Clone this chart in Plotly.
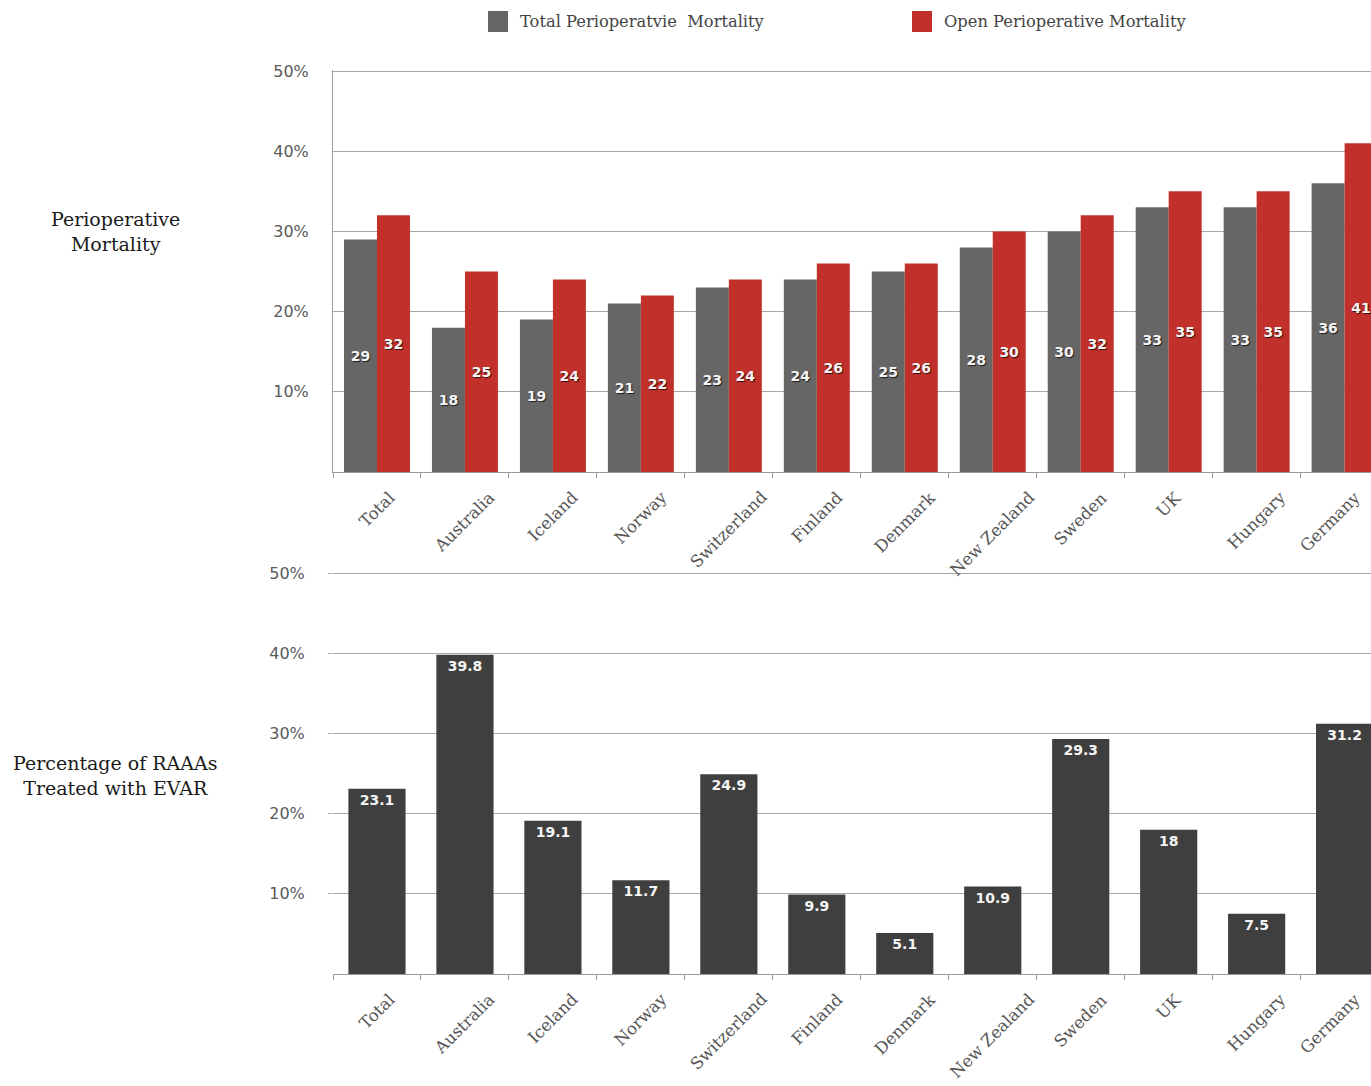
import plotly.graph_objects as go

# Countries shown on both panels
countries = ["Total", "Australia", "Iceland", "Norway", "Switzerland", "Finland",
             "Denmark", "New Zealand", "Sweden", "UK", "Hungary", "Germany"]

# Perioperative mortality (%)
total_mortality = [29, 18, 19, 21, 23, 24, 25, 28, 30, 33, 33, 36]
open_mortality = [32, 25, 24, 22, 24, 26, 26, 30, 32, 35, 35, 41]

# Share of ruptured AAAs treated with EVAR (%)
evar_share = [23.1, 39.8, 19.1, 11.7, 24.9, 9.9, 5.1, 10.9, 29.3, 18, 7.5, 31.2]

y_tickvals = [10, 20, 30, 40, 50]
y_ticktext = ["10%", "20%", "30%", "40%", "50%"]

W, H = 1371, 1086
GRAY = "#666666"
RED = "#c1302a"
DARK = "#3f3f3f"
SERIF = "DejaVu Serif"
SANS = "DejaVu Sans"


def px(x):
    return x / W


def py(y):
    return 1 - y / H


label_font = dict(family=SANS, size=14, color="#f5f5f5", weight="bold",
                  shadow="1px 1px 1px rgba(0,0,0,0.7)")

fig = go.Figure()

fig.add_trace(go.Bar(
    x=countries, y=total_mortality, name="Total Perioperatvie Mortality",
    marker=dict(color=GRAY, line=dict(width=0)),
    text=[str(v) for v in total_mortality], textposition="inside",
    insidetextanchor="middle", textangle=0, constraintext="none",
    textfont=label_font, xaxis="x", yaxis="y", hoverinfo="skip",
))
fig.add_trace(go.Bar(
    x=countries, y=open_mortality, name="Open Perioperative Mortality",
    marker=dict(color=RED, line=dict(width=0)),
    text=[str(v) for v in open_mortality], textposition="inside",
    insidetextanchor="middle", textangle=0, constraintext="none",
    textfont=label_font, xaxis="x", yaxis="y", hoverinfo="skip",
))
fig.add_trace(go.Bar(
    x=countries, y=evar_share, name="EVAR",
    marker=dict(color=DARK, line=dict(width=0)),
    text=[f"{v:g}" for v in evar_share], textposition="inside",
    insidetextanchor="end", textangle=0, constraintext="none",
    textfont=dict(family=SANS, size=14, color="#f5f5f5", weight="bold"),
    xaxis="x2", yaxis="y2", width=0.65, hoverinfo="skip",
))

x_common = dict(
    domain=[px(333), 1], range=[-0.5, 11.3], type="category",
    showgrid=False, showline=True, linecolor="#9a9a9a", linewidth=1,
    ticks="outside", tickson="boundaries", ticklen=5, tickcolor="#9a9a9a",
    showticklabels=False, automargin=False, fixedrange=True,
)
# range top slightly above 50 so the 50% gridline is drawn inside the plot
y_common = dict(
    range=[0, 50.15], tickvals=y_tickvals, ticktext=y_ticktext,
    showgrid=True, gridcolor="#a8a8a8", gridwidth=1, zeroline=False,
    tickfont=dict(family=SANS, size=16, color="#5a5a5a"),
    ticklabelstandoff=20, automargin=False, fixedrange=True,
)
px_per_unit = 8.0  # 10% per 80 px

fig.update_layout(
    width=W, height=H,
    margin=dict(l=0, r=0, t=0, b=0),
    paper_bgcolor="white", plot_bgcolor="white",
    barmode="group", bargap=0.25, bargroupgap=0,
    showlegend=False,
    xaxis=dict(x_common, anchor="y"),
    xaxis2=dict(x_common, anchor="y2"),
    yaxis=dict(y_common, domain=[py(472), py(71 - 0.15 * px_per_unit)], anchor="x",
               showline=True, linecolor="#9a9a9a", ticks=""),
    yaxis2=dict(y_common, domain=[py(974), py(573 - 0.15 * px_per_unit)], anchor="x2",
                showline=False, ticks="outside", ticklen=4, tickcolor="#a8a8a8"),
)

# Rotated category labels centred under each category
# (the last one is nudged left so it stays inside the page)
for xref, base in [("x", 472), ("x2", 974)]:
    for i, name in enumerate(countries):
        fig.add_annotation(xref=xref, yref="paper", x=name, y=py(base + 13),
                           text=name, textangle=-45, showarrow=False,
                           xanchor="center", yanchor="top",
                           xshift=-14 if i == len(countries) - 1 else 0,
                           font=dict(family=SERIF, size=16.5, color="#555555"))

# Legend row at the top
legend_items = [(488, GRAY, "Total Perioperatvie\u00a0 Mortality"),
                (912, RED, "Open Perioperative Mortality")]
for x0, color, label in legend_items:
    fig.add_shape(type="rect", xref="paper", yref="paper",
                  x0=px(x0), x1=px(x0 + 20), y0=py(32), y1=py(11),
                  fillcolor=color, line=dict(width=0))
    fig.add_annotation(xref="paper", yref="paper", x=px(x0 + 30), y=py(21.5),
                       text=label, showarrow=False, xanchor="left", yanchor="middle",
                       font=dict(family=SERIF, size=16.3, color="#444444"))

# Panel titles on the left
for y_mid, title in [(231, "Perioperative<br>Mortality"),
                     (775, "Percentage of RAAAs<br>Treated with EVAR")]:
    fig.add_annotation(xref="paper", yref="paper", x=px(115.5), y=py(y_mid),
                       text=title, showarrow=False, xanchor="center", yanchor="middle",
                       align="center",
                       font=dict(family=SERIF, size=19, color="#1a1a1a"))

fig.write_html("out.html")
